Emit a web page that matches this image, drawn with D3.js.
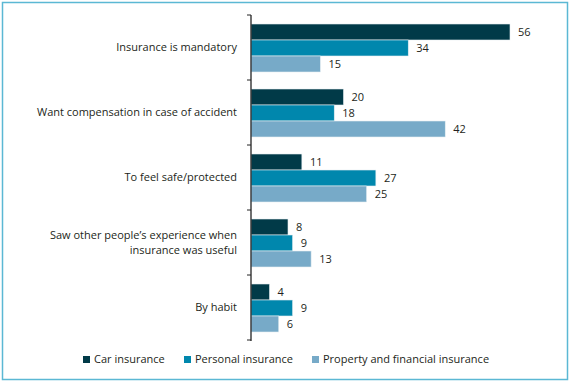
<!DOCTYPE html>
<html><head><meta charset="utf-8">
<script src="https://cdn.jsdelivr.net/npm/d3@7"></script>
<style>body{margin:0;background:#fff}svg{display:block}</style>
</head><body>
<svg id="c" width="572" height="383"></svg>
<script>
const categories = [
  ["Insurance is mandatory"],
  ["Want compensation in case of accident"],
  ["To feel safe/protected"],
  ["Saw other people\u2019s experience when", "insurance was useful"],
  ["By habit"]
];
const seriesNames = ["Car insurance", "Personal insurance", "Property and financial insurance"];
const carValues = [56, 20, 11, 8, 4];
const personalValues = [34, 18, 27, 9, 9];
const propertyValues = [15, 42, 25, 13, 6];
const colors = ["#013a48", "#0087ad", "#77aac8"];

const seriesValues = [carValues, personalValues, propertyValues];
const svg = d3.select("#c");
const font = "'Open Sans', sans-serif";
const txt = "#231f20";

// frame
svg.append("rect").attr("x", 2.5).attr("y", 2.5).attr("width", 565).attr("height", 377)
  .attr("fill", "none").attr("stroke", "#5bb8d4").attr("stroke-width", 1.5);

const y = d3.scaleBand().domain(d3.range(categories.length)).range([15, 340]);
const yi = d3.scaleBand().domain(d3.range(seriesNames.length)).range([9, 57]);
const x = d3.scaleLinear().domain([0, 56]).range([251, 510]);

const g = svg.append("g");
categories.forEach((cat, ci) => {
  seriesValues.forEach((vals, si) => {
    const v = vals[ci];
    const by = y(ci) + yi(si);
    g.append("rect").attr("x", x(0)).attr("y", by)
      .attr("width", x(v) - x(0)).attr("height", yi.bandwidth())
      .attr("fill", colors[si]).attr("stroke", "#e6eef2").attr("stroke-width", 0.6);
    g.append("text").attr("x", x(v) + 8).attr("y", by + yi.bandwidth() / 2)
      .attr("dy", "0.35em").attr("font-family", font).attr("font-size", 11)
      .attr("fill", txt).text(v);
  });
  const cy = y(ci) + y.bandwidth() / 2;
  const n = cat.length;
  const t = g.append("text").attr("text-anchor", "end")
    .attr("font-family", font).attr("font-size", 11).attr("fill", txt);
  cat.forEach((line, li) => {
    t.append("tspan").attr("x", 237).attr("y", cy + (li - (n - 1) / 2) * 15)
      .attr("dy", "0.35em").text(line);
  });
});

// axis line and ticks at band boundaries
const bounds = d3.range(categories.length + 1).map(i => i < categories.length ? y(i) : y.range()[1]);
svg.append("line").attr("x1", x(0)).attr("x2", x(0)).attr("y1", 15).attr("y2", 341)
  .attr("stroke", "#222").attr("stroke-width", 1.3);
bounds.forEach(b => {
  svg.append("line").attr("x1", x(0) - 4).attr("x2", x(0)).attr("y1", b).attr("y2", b)
    .attr("stroke", "#222").attr("stroke-width", 1);
});

// legend
const legendX = [83, 184, 312];
seriesNames.forEach((name, i) => {
  svg.append("rect").attr("x", legendX[i]).attr("y", 356).attr("width", 7).attr("height", 7)
    .attr("fill", colors[i]);
  svg.append("text").attr("x", legendX[i] + 11).attr("y", 359.5).attr("dy", "0.35em")
    .attr("font-family", font).attr("font-size", 11).attr("fill", txt).text(name);
});
</script>
</body></html>
